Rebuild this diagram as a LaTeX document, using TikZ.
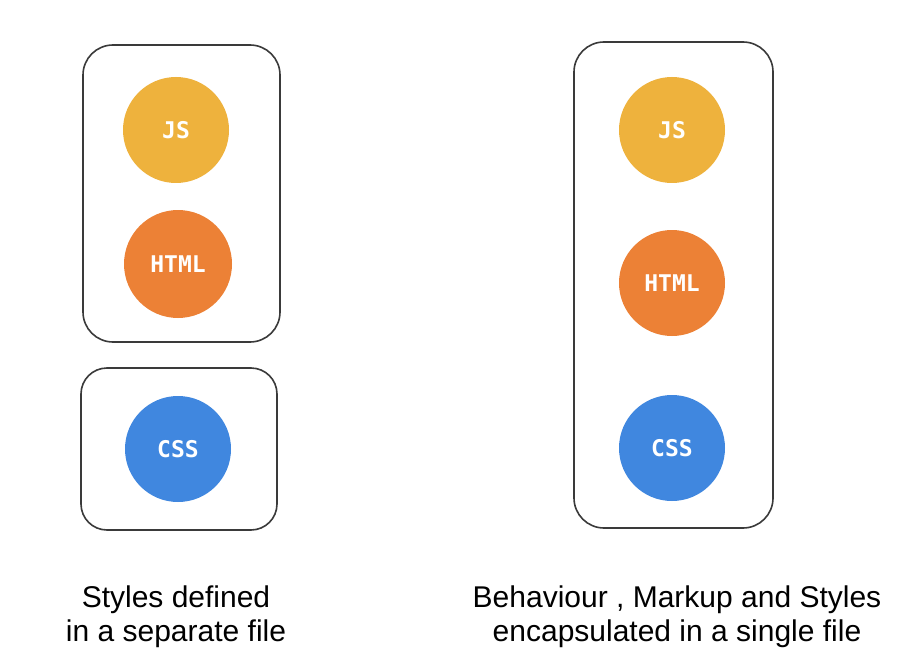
\documentclass[tikz,border=0pt]{standalone}
\usepackage{fontspec}
\setmainfont{Liberation Sans}
\newfontfamily\labelfont{DejaVu Sans Mono}
\definecolor{jsc}{HTML}{EEB23D}
\definecolor{htmlc}{HTML}{EC8136}
\definecolor{cssc}{HTML}{4087DF}
\definecolor{edge}{HTML}{3A3A3A}
\begin{document}
\begin{tikzpicture}[x=1pt,y=-1pt,
  filebox/.style={draw=edge,line width=1.6pt,rounded corners=30pt},
  tech/.style={circle,minimum size=106pt,inner sep=0pt,text=white,
    font=\labelfont\bfseries\fontsize{23}{26}\selectfont},
  caption/.style={align=center,font=\fontsize{30}{34}\selectfont,text=black}]
\useasboundingbox[fill=white] (0,0) rectangle (912,671);
% left side
\draw[filebox] (83,45) rectangle (280,342);
\draw[filebox,rounded corners=26pt] (81,368) rectangle (277,530);
\node[tech,fill=jsc] (js1) at (176,130) {JS};
\node[tech,fill=htmlc,minimum size=108pt] (html1) at (178,264) {HTML};
\node[tech,fill=cssc] (css1) at (178,449) {CSS};
% right side
\draw[filebox] (574,42) rectangle (773,528);
\node[tech,fill=jsc] (js2) at (672,130) {JS};
\node[tech,fill=htmlc] (html2) at (672,283) {HTML};
\node[tech,fill=cssc] (css2) at (672,448) {CSS};
% captions
\node[caption] (cap1) at (176,617) {Styles defined\\in a separate file};
\node[caption] (cap2) at (677,617) {Behaviour , Markup and Styles\\encapsulated in a single file};
\end{tikzpicture}
\end{document}
